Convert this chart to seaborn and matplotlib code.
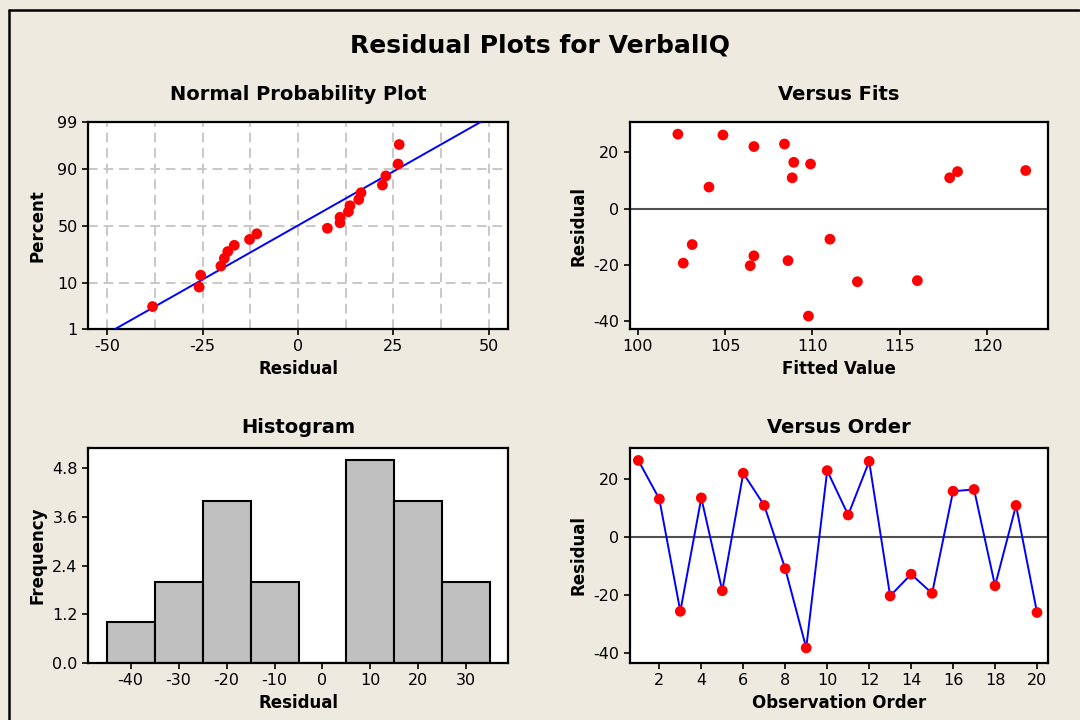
import matplotlib
matplotlib.use("Agg")
import matplotlib.pyplot as plt
import seaborn as sns
import pandas as pd
import numpy as np
from statistics import NormalDist

# Residuals in observation order
residuals = [26.5, 13.2, -25.5, 13.6, -18.4, 22.1, 11.0, -10.8, -38.1, 23.0,
             7.7, 26.2, -20.2, -12.7, -19.3, 15.9, 16.5, -16.7, 11.0, -25.9]
# Fitted values, same order
fitted = [102.3, 118.3, 116.0, 122.2, 108.6, 106.65, 108.84, 111.0, 109.77, 108.4,
          104.08, 104.88, 106.44, 103.12, 102.61, 109.89, 108.93, 106.65, 117.85, 112.57]
order = list(range(1, 21))

pct_ticks = [1, 10, 50, 90, 99]
hist_bins = [-45, -35, -25, -15, -5, 5, 15, 25, 35]

BG = "#EEEAE0"
RED = "#FF0000"
BLUE = "#0000FF"

sns.set_theme(style="ticks")
plt.rcParams["font.family"] = ["DejaVu Sans"]
plt.rcParams.update({
    "axes.facecolor": "white",
    "axes.edgecolor": "black",
    "axes.linewidth": 1.6,
    "axes.unicode_minus": False,
    "text.color": "black",
    "axes.labelcolor": "black",
    "axes.titlecolor": "black",
    "xtick.color": "black",
    "ytick.color": "black",
    "xtick.labelcolor": "black",
    "ytick.labelcolor": "black",
    "xtick.major.size": 4,
    "ytick.major.size": 4,
    "xtick.major.width": 1.2,
    "ytick.major.width": 1.2,
    "xtick.labelsize": 11.5,
    "ytick.labelsize": 11.5,
    "axes.labelsize": 12,
    "axes.labelweight": "bold",
    "axes.titlesize": 14,
    "axes.titleweight": "bold",
})

df = pd.DataFrame({"Residual": residuals, "Fitted": fitted, "Order": order})

fig = plt.figure(figsize=(10.8, 7.2), dpi=100, facecolor=BG)
ax_npp = fig.add_axes([0.0815, 0.543, 0.3889, 0.2875])
ax_fit = fig.add_axes([0.5833, 0.543, 0.387, 0.2875])
ax_hist = fig.add_axes([0.0815, 0.0792, 0.3889, 0.2986])
ax_ord = fig.add_axes([0.5833, 0.0792, 0.387, 0.2986])

# border lines of the window (left and top only)
fig.add_artist(plt.Line2D([0.0083, 0.0083], [0, 0.986], color="black", lw=1.8))
fig.add_artist(plt.Line2D([0.0083, 0.999], [0.986, 0.986], color="black", lw=1.8))

fig.text(0.5, 0.937, "Residual Plots for VerbalIQ", ha="center", va="center",
         fontsize=18, fontweight="bold")

# ---- Normal probability plot ----
nd = NormalDist()
n = len(residuals)
srt = np.sort(residuals)
pp = [(i - 0.3) / (n + 0.4) for i in range(1, n + 1)]
npp_df = pd.DataFrame({"Residual": srt, "z": [nd.inv_cdf(p) for p in pp]})
mu = np.mean(residuals)
sd = np.std(residuals, ddof=1)
zlo, zhi = nd.inv_cdf(0.01), nd.inv_cdf(0.99)
line_df = pd.DataFrame({"z": [zlo, zhi], "Residual": [mu + sd * zlo, mu + sd * zhi]})

sns.lineplot(data=line_df, x="Residual", y="z", ax=ax_npp, color=BLUE, lw=1.4, zorder=3)
sns.scatterplot(data=npp_df, x="Residual", y="z", ax=ax_npp, color=RED, s=60,
                edgecolor="none", zorder=4)
ax_npp.set_xlim(-55, 55)
ax_npp.set_ylim(zlo, zhi)
ax_npp.set_xticks([-50, -25, 0, 25, 50])
ax_npp.set_xticks([-37.5, -12.5, 12.5, 37.5], minor=True)
ax_npp.tick_params(axis="x", which="minor", length=0)
ax_npp.set_yticks([nd.inv_cdf(p / 100) for p in pct_ticks])
ax_npp.set_yticklabels([str(p) for p in pct_ticks])
ax_npp.grid(True, which="both", color="#C8C8C8", ls=(0, (5, 3)), lw=1.4)
ax_npp.set_axisbelow(True)
ax_npp.set_title("Normal Probability Plot", pad=16)
ax_npp.set_xlabel("Residual")
ax_npp.set_ylabel("Percent", labelpad=8)

# ---- Versus fits ----
ax_fit.axhline(0, color="#505050", lw=1.5, zorder=1)
sns.scatterplot(data=df, x="Fitted", y="Residual", ax=ax_fit, color=RED, s=60,
                edgecolor="none", zorder=4)
ax_fit.set_xlim(99.56, 123.47)
ax_fit.set_ylim(-42.7, 30.8)
ax_fit.set_xticks([100, 105, 110, 115, 120])
ax_fit.set_yticks([-40, -20, 0, 20])
ax_fit.set_title("Versus Fits", pad=16)
ax_fit.set_xlabel("Fitted Value")
ax_fit.set_ylabel("Residual")

# ---- Histogram ----
sns.histplot(data=df, x="Residual", bins=hist_bins, ax=ax_hist, color="#C0C0C0",
             edgecolor="black", linewidth=1.5, alpha=1)
ax_hist.set_xlim(-48.9, 38.7)
ax_hist.set_ylim(0, 5.3)
ax_hist.set_xticks([-40, -30, -20, -10, 0, 10, 20, 30])
ax_hist.set_yticks([0, 1.2, 2.4, 3.6, 4.8])
ax_hist.set_yticklabels(["0.0", "1.2", "2.4", "3.6", "4.8"])
ax_hist.set_title("Histogram", pad=11)
ax_hist.set_xlabel("Residual")
ax_hist.set_ylabel("Frequency")

# ---- Versus order ----
ax_ord.axhline(0, color="#505050", lw=1.5, zorder=1)
sns.lineplot(data=df, x="Order", y="Residual", ax=ax_ord, color=BLUE, lw=1.4, zorder=3)
sns.scatterplot(data=df, x="Order", y="Residual", ax=ax_ord, color=RED, s=60,
                edgecolor="none", zorder=4)
ax_ord.set_xlim(0.6, 20.52)
ax_ord.set_ylim(-43.3, 30.8)
ax_ord.set_xticks(list(range(2, 21, 2)))
ax_ord.set_yticks([-40, -20, 0, 20])
ax_ord.set_title("Versus Order", pad=11)
ax_ord.set_xlabel("Observation Order")
ax_ord.set_ylabel("Residual")

for ax in [ax_npp, ax_fit, ax_hist, ax_ord]:
    for sp in ax.spines.values():
        sp.set_visible(True)
        sp.set_linewidth(1.6)

fig.savefig("out.png", dpi=100, facecolor=BG)
